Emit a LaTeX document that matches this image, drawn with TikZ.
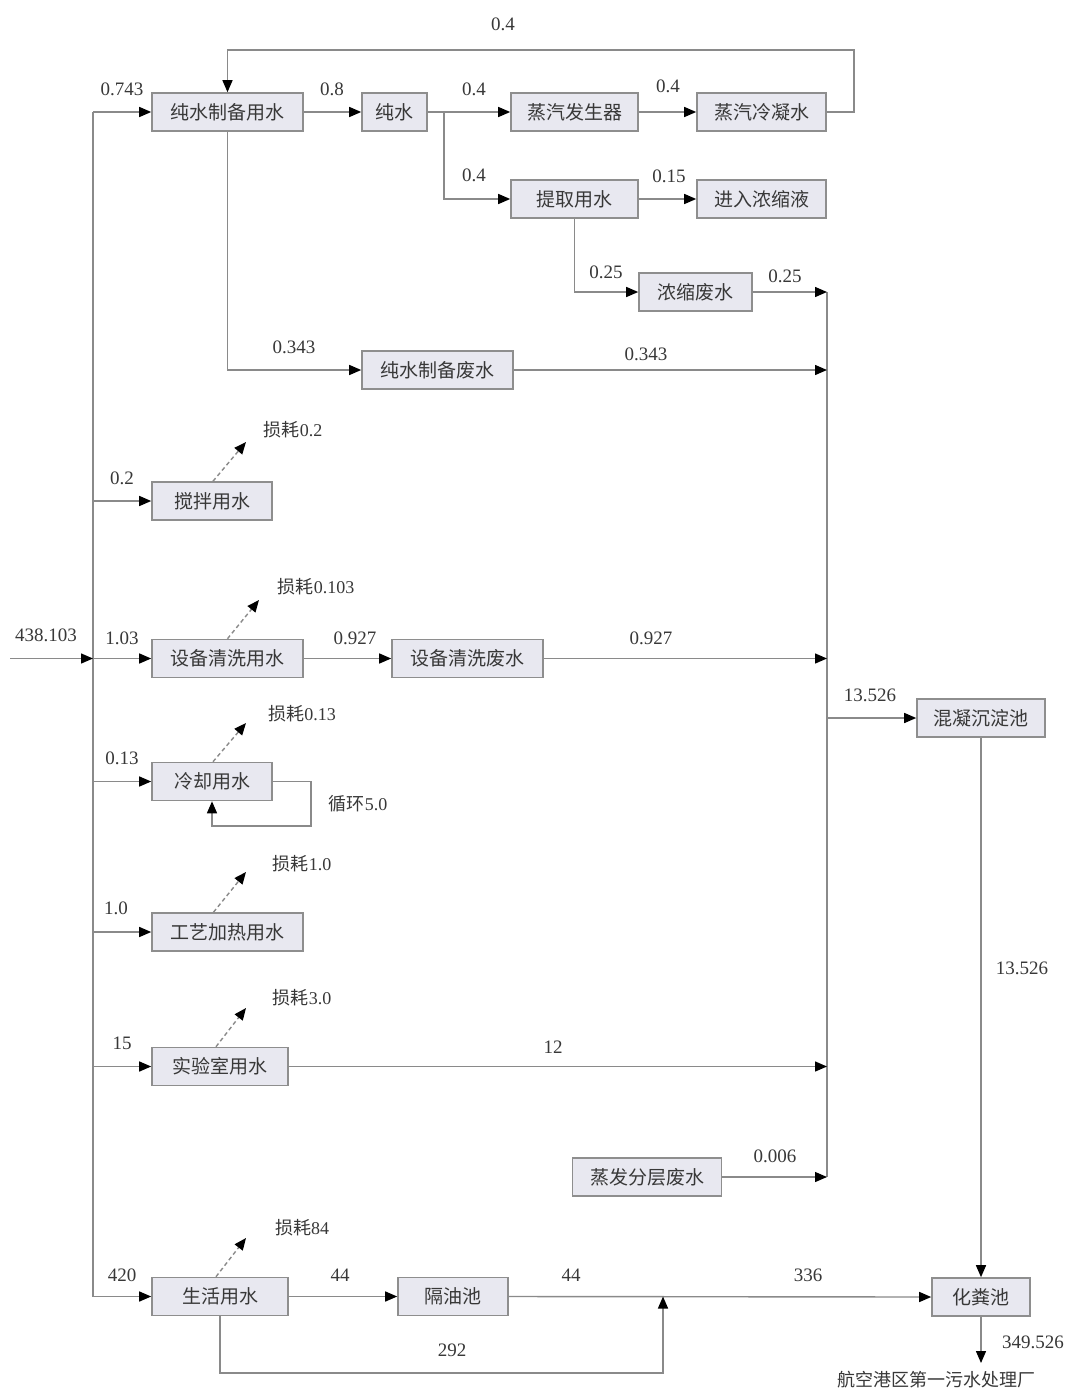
\documentclass[tikz,border=0pt]{standalone}
\usepackage{fontspec}
\setmainfont{Liberation Serif}
\newfontfamily\cjk{Noto Sans CJK SC}
\usetikzlibrary{arrows.meta}
\definecolor{boxfill}{HTML}{E8E8F0}
\definecolor{boxline}{HTML}{8E8E8E}
\definecolor{linegray}{HTML}{8A8A8A}
\definecolor{txt}{HTML}{383838}
\begin{document}
\begin{tikzpicture}[x=1pt,y=-1pt,
  box/.style={draw=boxline,line width=1.6pt,fill=boxfill,minimum height=38pt,inner sep=0pt,
    font=\cjk\fontsize{19}{22}\selectfont,text=txt},
  num/.style={font=\fontsize{19}{22}\selectfont,text=txt,inner sep=0pt},
  lbl/.style={font=\fontsize{18}{22}\selectfont,text=txt,inner sep=0pt},
  conn/.style={draw=linegray,line width=1.4pt},
  arr/.style={conn,-{Triangle[length=12pt,width=10pt,color=black]}},
  loss/.style={draw=linegray,line width=1.4pt,dash pattern=on 4pt off 3pt,
    -{Triangle[length=12pt,width=10pt,color=black]}}]
\useasboundingbox (0,0) rectangle (1071,1392);
\fill[white] (0,0) rectangle (1071,1392);

% boxes
\node[box,minimum width=151] (cszb) at (227.5,112) {纯水制备用水};
\node[box,minimum width=65]  (cs)   at (394.5,112) {纯水};
\node[box,minimum width=127] (zqfs) at (574.5,112) {蒸汽发生器};
\node[box,minimum width=129] (zqln) at (761.5,112) {蒸汽冷凝水};
\node[box,minimum width=127] (tq)   at (574.5,199) {提取用水};
\node[box,minimum width=129] (jr)   at (761.5,199) {进入浓缩液};
\node[box,minimum width=113] (ns)   at (695.5,292) {浓缩废水};
\node[box,minimum width=151] (csfs) at (437.5,370) {纯水制备废水};
\node[box,minimum width=120] (jb)   at (212,501) {搅拌用水};
\node[box,minimum width=151] (sbq)  at (227.5,658.5) {设备清洗用水};
\node[box,minimum width=151] (sbf)  at (467.5,658.5) {设备清洗废水};
\node[box,minimum width=120] (lq)   at (212,781.5) {冷却用水};
\node[box,minimum width=151] (gy)   at (227.5,932) {工艺加热用水};
\node[box,minimum width=136] (sy)   at (220,1066.5) {实验室用水};
\node[box,minimum width=149] (zf)   at (647,1177) {蒸发分层废水};
\node[box,minimum width=128] (hn)   at (981,718) {混凝沉淀池};
\node[box,minimum width=98]  (hf)   at (981,1297) {化粪池};
\node[box,minimum width=136] (sh)   at (220,1296.5) {生活用水};
\node[box,minimum width=110] (gyc)  at (453,1296.5) {隔油池};

% helper coordinates
\coordinate (bus) at (93,0);
\coordinate (col) at (827,0);
\coordinate (in) at (10,658.5);
\coordinate (fb) at (854,50);
\coordinate (br) at (444,112);
\coordinate (lqr) at (311,826);
\coordinate (shb) at (663,1373);
\coordinate (jn) at (663,1296.5);
\coordinate (out) at (981,1363);

% supply bus
\draw[conn] (cszb.west -| bus) -- (sh.west -| bus);
\draw[arr] (in) -- (sbq.west -| bus);
\draw[arr] (cszb.west -| bus) -- (cszb.west);
\draw[arr] (jb.west -| bus) -- (jb.west);
\draw[arr] (sbq.west -| bus) -- (sbq.west);
\draw[arr] (lq.west -| bus) -- (lq.west);
\draw[arr] (gy.west -| bus) -- (gy.west);
\draw[arr] (sy.west -| bus) -- (sy.west);
\draw[arr] (sh.west -| bus) -- (sh.west);

% pure water section
\draw[arr] (cszb.east) -- (cs.west);
\draw[conn] (cs.east) -- (br);
\draw[arr] (br) -- (zqfs.west);
\draw[arr] (br) |- (tq.west);
\draw[arr] (zqfs.east) -- (zqln.west);
\draw[arr] (zqln.east) -| (fb) -| (cszb.north);
\draw[arr] (tq.east) -- (jr.west);
\draw[arr] (tq.south) |- (ns.west);
\draw[arr] (cszb.south) |- (csfs.west);

% collector
\draw[conn] (ns.east -| col) -- (zf.east -| col);
\draw[arr] (ns.east) -- (ns.east -| col);
\draw[arr] (csfs.east) -- (csfs.east -| col);
\draw[arr] (sbf.east) -- (sbf.east -| col);
\draw[arr] (sy.east) -- (sy.east -| col);
\draw[arr] (zf.east) -- (zf.east -| col);
\draw[arr] (hn.west -| col) -- (hn.west);
\draw[arr] (sbq.east) -- (sbf.west);

% cooling loop
\draw[arr] (lq.east) -| (lqr) -| (lq.south);

% domestic
\draw[arr] (sh.east) -- (gyc.west);
\draw[arr] (gyc.east) -- (hf.west);
\draw[arr] (sh.south) |- (shb) -- (jn);
\draw[arr] (hn.south) -- (hf.north);
\draw[arr] (hf.south) -- (out);

% losses
\coordinate (l1) at (246,442);
\coordinate (l2) at (259,600);
\coordinate (l3) at (246,723);
\coordinate (l4) at (246,872);
\coordinate (l5) at (246,1008);
\coordinate (l6) at (246,1238);
\draw[loss] ([xshift=1pt]jb.north) -- (l1);
\draw[loss] (sbq.north) -- (l2);
\draw[loss] ([xshift=1pt]lq.north) -- (l3);
\draw[loss] ([xshift=-14pt]gy.north) -- (l4);
\draw[loss] ([xshift=-4pt]sy.north) -- (l5);
\draw[loss] ([xshift=-4pt]sh.north) -- (l6);

% labels
\node[num] (t1) at (503,24) {0.4};
\node[num] (t2) at (122,89) {0.743};
\node[num] (t3) at (332,89) {0.8};
\node[num] (t4) at (474,89) {0.4};
\node[num] (t5) at (668,86) {0.4};
\node[num] (t6) at (474,175) {0.4};
\node[num] (t7) at (669,176) {0.15};
\node[num] (t8) at (606,272) {0.25};
\node[num] (t9) at (785,276) {0.25};
\node[num] (t10) at (294,347) {0.343};
\node[num] (t11) at (646,354) {0.343};
\node[lbl] (t12) at (293,430) {{\cjk 损耗}0.2};
\node[num] (t13) at (122,478) {0.2};
\node[lbl] (t14) at (316,587) {{\cjk 损耗}0.103};
\node[num] (t15) at (46,635) {438.103};
\node[num] (t16) at (122,638) {1.03};
\node[num] (t17) at (355,638) {0.927};
\node[num] (t18) at (651,638) {0.927};
\node[num] (t19) at (870,695) {13.526};
\node[lbl] (t20) at (302,714) {{\cjk 损耗}0.13};
\node[num] (t21) at (122,758) {0.13};
\node[lbl] (t22) at (358,804) {{\cjk 循环}5.0};
\node[lbl] (t23) at (302,864) {{\cjk 损耗}1.0};
\node[num] (t24) at (116,908) {1.0};
\node[num] (t25) at (1022,968) {13.526};
\node[lbl] (t26) at (302,998) {{\cjk 损耗}3.0};
\node[num] (t27) at (122,1043) {15};
\node[num] (t28) at (553,1047) {12};
\node[num] (t29) at (775,1156) {0.006};
\node[lbl] (t30) at (302,1228) {{\cjk 损耗}84};
\node[num] (t31) at (122,1275) {420};
\node[num] (t32) at (340,1275) {44};
\node[num] (t33) at (571,1275) {44};
\node[num] (t34) at (808,1275) {336};
\node[num] (t35) at (452,1350) {292};
\node[num] (t36) at (1033,1342) {349.526};
\node[lbl,font=\cjk\fontsize{18}{22}\selectfont] (t37) at (936,1380) {航空港区第一污水处理厂};
\end{tikzpicture}
\end{document}
